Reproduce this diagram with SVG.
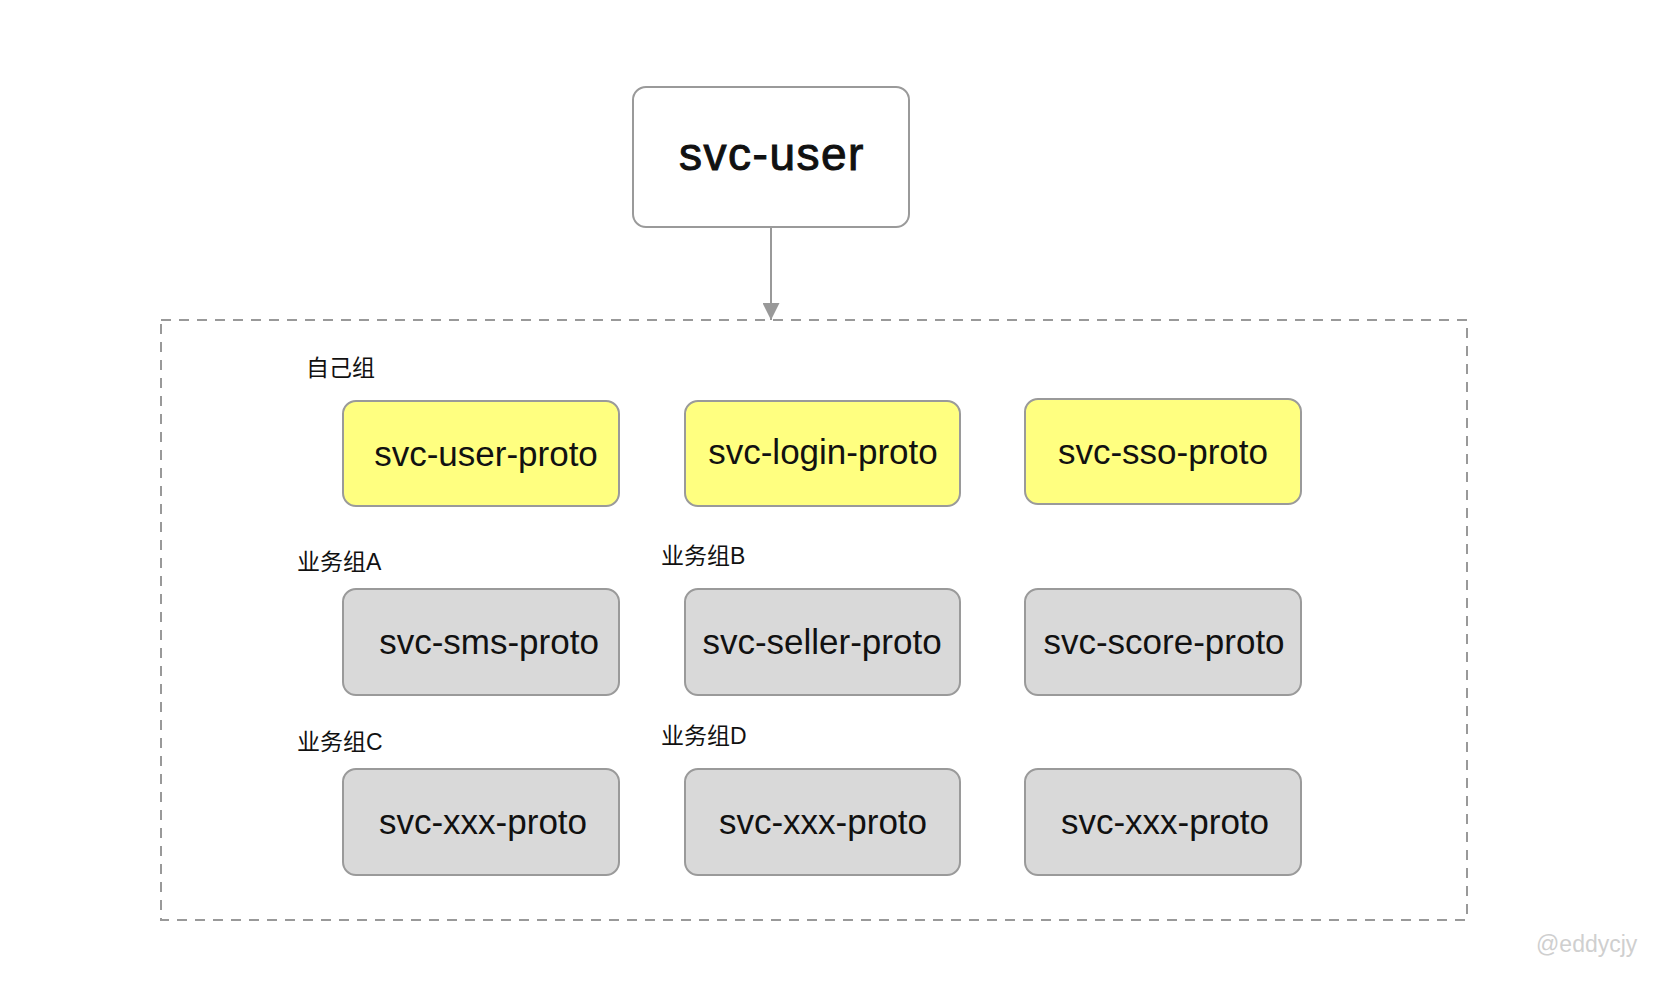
<svg xmlns="http://www.w3.org/2000/svg" width="1680" height="988" viewBox="0 0 1680 988">
<defs>
<style>
.box{stroke:#9a9a9a;stroke-width:2}
.y{fill:#ffff80}
.g{fill:#d9d9d9}
.t{font-family:"Liberation Sans",Arial,sans-serif;font-size:35px;fill:#111;text-anchor:middle}
.lbl{font-family:"Liberation Sans","Noto Sans CJK SC",sans-serif;font-size:23px;fill:#111}
</style>
<marker id="arr" viewBox="0 0 10 10" refX="10" refY="5" markerWidth="17" markerHeight="17" markerUnits="userSpaceOnUse" orient="auto">
<path d="M0,0 L10,5 L0,10 Z" fill="#999"/>
</marker>
</defs>
<rect width="1680" height="988" fill="#fff"/>
<g id="group-frame">
<rect x="161" y="320" width="1306" height="600" fill="none" stroke="#999" stroke-width="2" stroke-dasharray="10 8"/>
</g>
<g id="connectors">
<line x1="771" y1="227" x2="771" y2="320" stroke="#999" stroke-width="2" marker-end="url(#arr)"/>
</g>
<g id="svc-user">
<rect class="box" x="633" y="87" width="276" height="140" rx="13" fill="#fff"/>
<text x="772" y="170" font-family="Liberation Sans,Arial,sans-serif" font-size="46" letter-spacing="1.5" text-anchor="middle" fill="#111" stroke="#111" stroke-width="1">svc-user</text>
</g>
<g id="labels">
<text class="lbl" x="306" y="376">自己组</text>
<text class="lbl" x="297" y="570">业务组A</text>
<text class="lbl" x="661" y="564">业务组B</text>
<text class="lbl" x="297" y="750">业务组C</text>
<text class="lbl" x="661" y="744">业务组D</text>
</g>
<g id="svc-user-proto"><rect class="box y" x="343" y="401" width="276" height="105" rx="13"/><text class="t" x="486" y="466">svc-user-proto</text></g>
<g id="svc-login-proto"><rect class="box y" x="685" y="401" width="275" height="105" rx="13"/><text class="t" x="823" y="464">svc-login-proto</text></g>
<g id="svc-sso-proto"><rect class="box y" x="1025" y="399" width="276" height="105" rx="13"/><text class="t" x="1163" y="464">svc-sso-proto</text></g>
<g id="svc-sms-proto"><rect class="box g" x="343" y="589" width="276" height="106" rx="13"/><text class="t" x="489" y="654">svc-sms-proto</text></g>
<g id="svc-seller-proto"><rect class="box g" x="685" y="589" width="275" height="106" rx="13"/><text class="t" x="822" y="654">svc-seller-proto</text></g>
<g id="svc-score-proto"><rect class="box g" x="1025" y="589" width="276" height="106" rx="13"/><text class="t" x="1164" y="654">svc-score-proto</text></g>
<g id="svc-xxx-proto-1"><rect class="box g" x="343" y="769" width="276" height="106" rx="13"/><text class="t" x="483" y="834">svc-xxx-proto</text></g>
<g id="svc-xxx-proto-2"><rect class="box g" x="685" y="769" width="275" height="106" rx="13"/><text class="t" x="823" y="834">svc-xxx-proto</text></g>
<g id="svc-xxx-proto-3"><rect class="box g" x="1025" y="769" width="276" height="106" rx="13"/><text class="t" x="1165" y="834">svc-xxx-proto</text></g>
<text x="1536" y="952" font-family="Liberation Sans,Arial,sans-serif" font-size="23" fill="#cfcfcf">@eddycjy</text>
</svg>
